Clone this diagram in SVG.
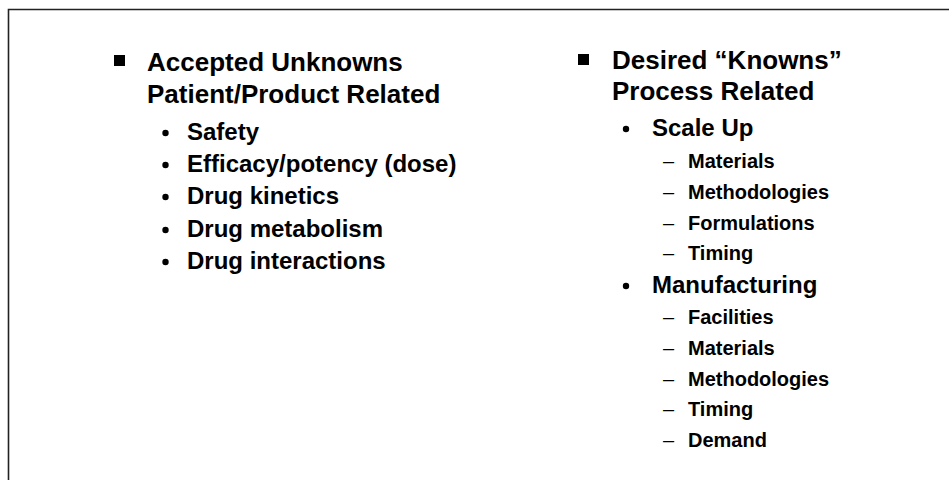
<svg xmlns="http://www.w3.org/2000/svg" width="949" height="480" viewBox="0 0 949 480">
<style>
text{font-family:"Liberation Sans",Arial,Helvetica,sans-serif;font-weight:bold;fill:#000}
.h{font-size:26px}
.l2{font-size:24px}
.l3{font-size:20px}
.dash{font-size:20px;font-weight:normal}
.frame{fill:none;stroke:#222;stroke-width:1.6}
</style>
<rect width="949" height="480" fill="#fff"/>
<path class="frame" d="M8.5 480V9.5H949"/>
<g id="left-column">
  <g id="accepted-unknowns">
    <rect x="114" y="55" width="11" height="11" fill="#000"/>
    <text class="h" x="147" y="71">Accepted Unknowns</text>
    <text class="h" x="147" y="103">Patient/Product Related</text>
  </g>
  <g id="safety"><circle cx="165.5" cy="133" r="3.2"/><text class="l2" x="187" y="140">Safety</text></g>
  <g id="efficacy"><circle cx="165.5" cy="165" r="3.2"/><text class="l2" x="187" y="172">Efficacy/potency (dose)</text></g>
  <g id="kinetics"><circle cx="165.5" cy="197" r="3.2"/><text class="l2" x="187" y="204">Drug kinetics</text></g>
  <g id="metabolism"><circle cx="165.5" cy="230" r="3.2"/><text class="l2" x="187" y="237">Drug metabolism</text></g>
  <g id="interactions"><circle cx="165.5" cy="262" r="3.2"/><text class="l2" x="187" y="269">Drug interactions</text></g>
</g>
<g id="right-column">
  <g id="desired-knowns">
    <rect x="578" y="54" width="11" height="11" fill="#000"/>
    <text class="h" x="612" y="69">Desired “Knowns”</text>
    <text class="h" x="612" y="100">Process Related</text>
  </g>
  <g id="scale-up"><circle cx="626" cy="129" r="3.2"/><text class="l2" x="652" y="136">Scale Up</text></g>
  <g id="su-materials"><text class="dash" x="663" y="168">–</text><text class="l3" x="688" y="168">Materials</text></g>
  <g id="su-methodologies"><text class="dash" x="663" y="199">–</text><text class="l3" x="688" y="199">Methodologies</text></g>
  <g id="su-formulations"><text class="dash" x="663" y="230">–</text><text class="l3" x="688" y="230">Formulations</text></g>
  <g id="su-timing"><text class="dash" x="663" y="260">–</text><text class="l3" x="688" y="260">Timing</text></g>
  <g id="manufacturing"><circle cx="626" cy="286" r="3.2"/><text class="l2" x="652" y="293">Manufacturing</text></g>
  <g id="mf-facilities"><text class="dash" x="663" y="324">–</text><text class="l3" x="688" y="324">Facilities</text></g>
  <g id="mf-materials"><text class="dash" x="663" y="355">–</text><text class="l3" x="688" y="355">Materials</text></g>
  <g id="mf-methodologies"><text class="dash" x="663" y="386">–</text><text class="l3" x="688" y="386">Methodologies</text></g>
  <g id="mf-timing"><text class="dash" x="663" y="416">–</text><text class="l3" x="688" y="416">Timing</text></g>
  <g id="mf-demand"><text class="dash" x="663" y="447">–</text><text class="l3" x="688" y="447">Demand</text></g>
</g>
<g id="connectors"></g>
</svg>
